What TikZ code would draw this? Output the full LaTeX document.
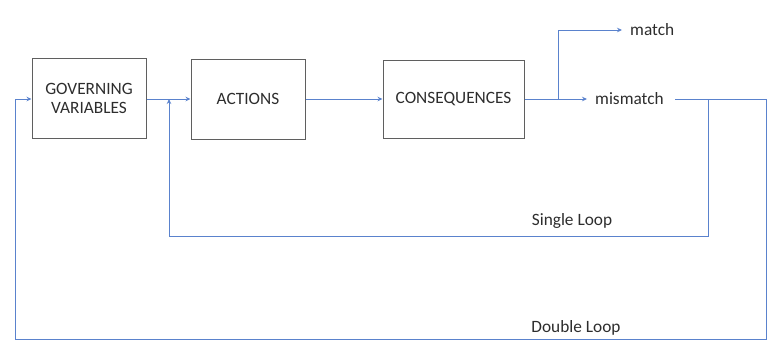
\documentclass[tikz,border=0pt]{standalone}
\usepackage{fontspec}
\setmainfont{Carlito}
\usetikzlibrary{arrows.meta}
\definecolor{lineblue}{RGB}{90,130,205}
\definecolor{boxgray}{RGB}{95,95,95}
\definecolor{txt}{RGB}{45,45,45}
\begin{document}
\begin{tikzpicture}[x=1pt,y=-1pt,
  blockbox/.style={draw=boxgray,line width=1pt,minimum width=#1,minimum height=80pt,align=center,font=\fontsize{17.3}{19}\selectfont,text=txt,inner sep=0pt},
  lbl/.style={font=\fontsize{17.3}{19}\selectfont,text=txt,inner sep=0pt},
  conn/.style={draw=lineblue,line width=0.9pt},
  arr/.style={conn,-{Stealth[length=5pt,width=4.5pt]}}]
\useasboundingbox (0,0) rectangle (767,354);
\node[blockbox=114pt] (gv) at (89,98) {GOVERNING\\VARIABLES};
\node[blockbox=114pt] (act) at (248,99) {ACTIONS};
\node[blockbox=141pt,minimum height=78pt] (cons) at (453.5,99) {CONSEQUENCES};
\node[lbl,anchor=west] (mis) at (595,99) {mismatch};
\node[lbl,anchor=west] (mat) at (630,30) {match};
\node[lbl] (sl) at (572,221) {Single Loop};
\node[lbl] (dl) at (576,328) {Double Loop};
\coordinate (misin) at (587,99);
\coordinate (misout) at (675,99);
\coordinate (br) at (558,99);
\coordinate (matin) at (622,30);
\coordinate (slr) at (708,99);
\coordinate (act_in) at (169,99);
\coordinate (gvin) at (15,99);
\draw[arr] (gv.east |- act.west) -- (act.west);
\draw[arr] (act.east) -- (cons.west);
\draw[arr] (cons.east) -- (misin);
\draw[arr] (br) |- (matin);
\draw[arr] (misout) -- (766,99) -- (766,339) -- (15,339) -- (gvin) -- (gv.west |- gvin);
\draw[arr] (slr) -- (708,236) -- (169,236) -- (act_in);
\end{tikzpicture}
\end{document}
